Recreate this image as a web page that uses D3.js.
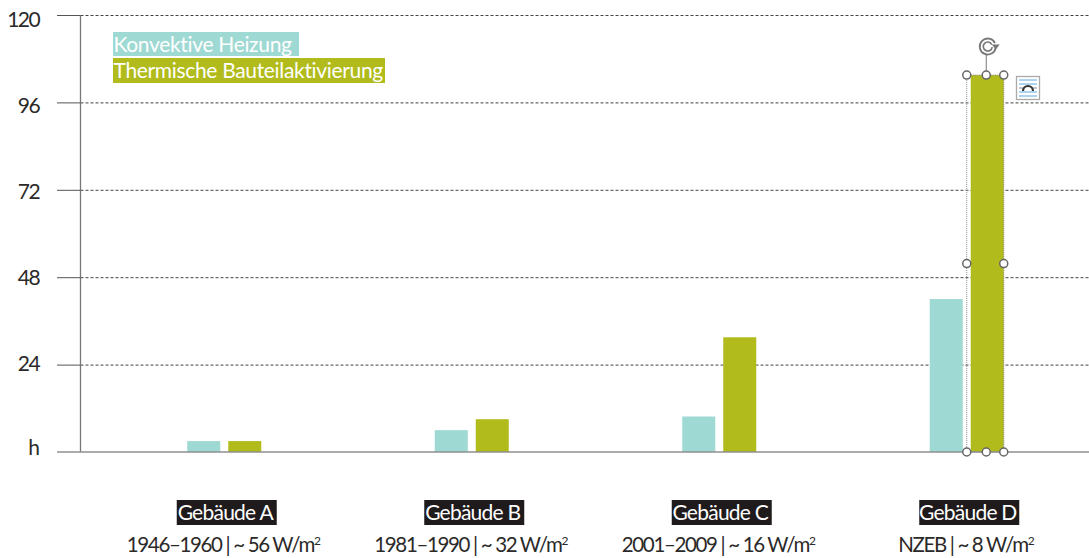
<!DOCTYPE html>
<html><head><meta charset="utf-8">
<script src="https://cdnjs.cloudflare.com/ajax/libs/d3/7.8.5/d3.min.js"></script>
<style>html,body{margin:0;padding:0;background:#fff}svg{display:block}text{font-family:"Lato",sans-serif}</style>
</head><body><svg id="c" width="1089" height="558"></svg>
<script>
const categories=["Gebäude A","Gebäude B","Gebäude C","Gebäude D"];
const subtitles=["1946–1960 | ~ 56 W/m","1981–1990 | ~ 32 W/m","2001–2009 | ~ 16 W/m","NZEB | ~ 8 W/m"];
const seriesNames=["Konvektive Heizung","Thermische Bauteilaktivierung"];
const konvektiv=[3,6,9.75,42];
const thermisch=[3,9,31.5,103.5];
const yTicks=[24,48,72,96,120];
const colors=["#9fd9d3","#b1bb1b"];
const ink="#2b2a29";
const svg=d3.select("#c");
const x=d3.scaleBand().domain(categories).range([100.5,1090.5]);
const inner=d3.scaleBand().domain(seriesNames).range([-37,37]).paddingInner(0.195);
const y=d3.scaleLinear().domain([0,120]).range([452,15]);
const yLabel=d3.scaleLinear().domain([24,120]).range([371,26.5]);
const axisX=80.5;
svg.append("g").selectAll("line").data(yTicks).join("line")
 .attr("x1",axisX).attr("x2",1089).attr("y1",d=>y(d)+.5).attr("y2",d=>y(d)+.5)
 .attr("stroke","#444").attr("stroke-width",1).attr("stroke-dasharray","3 2");
const yAxis=svg.append("g");
yAxis.append("line").attr("x1",axisX).attr("x2",axisX).attr("y1",y(120)).attr("y2",y(0)).attr("stroke","#777").attr("stroke-width",1.3);
yAxis.selectAll(".t").data(yTicks).join("line").attr("class","t").attr("x1",57).attr("x2",axisX).attr("y1",d=>y(d)+.5).attr("y2",d=>y(d)+.5).attr("stroke","#555");
yAxis.selectAll("text").data(yTicks).join("text").attr("x",39).attr("text-anchor","end").attr("y",d=>yLabel(d))
 .attr("font-size",21).attr("fill",ink).attr("letter-spacing",-1.6).text(d=>d);
yAxis.append("text").attr("x",40).attr("y",455).attr("text-anchor","end").attr("font-size",21).attr("fill",ink).text("h");
const rows=[konvektiv,thermisch];
rows.forEach((vals,s)=>{
 svg.append("g").selectAll("rect").data(vals).join("rect")
  .attr("x",(d,i)=>x(categories[i])+x.bandwidth()/2+inner(seriesNames[s]))
  .attr("width",inner.bandwidth()).attr("y",d=>y(d)).attr("height",d=>y(0)-y(d)).attr("fill",colors[s]);
});
svg.append("line").attr("x1",57).attr("x2",1089).attr("y1",y(0)).attr("y2",y(0)).attr("stroke","#8f8f8f").attr("stroke-width",1.5);
const lg=svg.append("g");
seriesNames.forEach((n,i)=>{
 const yy=32+i*26;
 lg.append("text").attr("x",113.5).attr("y",yy+20).attr("font-size",21).attr("letter-spacing",-0.33).attr("fill","#fff").text(n);
 lg.insert("rect","text").attr("x",113).attr("y",yy).attr("width",[186,272][i]).attr("height",[24,25][i]).attr("fill",colors[i]);
});
const cg=svg.append("g").selectAll("g").data(categories).join("g").attr("transform",d=>`translate(${x(d)+x.bandwidth()/2+2.5},0)`);
cg.each(function(d,i){
 const g=d3.select(this);
 g.append("text").attr("x",-1.5).attr("text-anchor","middle").attr("y",519.5).attr("font-size",21).attr("letter-spacing",-0.75).attr("fill","#fff").text(d);
 g.insert("rect","text").attr("x",-50).attr("y",500).attr("width",100).attr("height",25).attr("fill","#1f1b1c");
 const s=g.append("text").attr("x",-3.5).attr("text-anchor","middle").attr("y",552).attr("font-size",20.5).attr("letter-spacing",-1.35).attr("fill",ink).text(subtitles[i]);
 s.append("tspan").attr("font-size",12).attr("dy",-7).text("2");
});
const last=categories.length-1;
const bx=x(categories[last])+x.bandwidth()/2+inner(seriesNames[1]);
const bw=inner.bandwidth();
const barTop=y(thermisch[last]),barBot=y(0);
const sel=svg.append("g");
const hx=[bx-4,bx+bw/2-1,bx+bw];
sel.append("rect").attr("x",hx[0]).attr("y",barTop).attr("width",hx[2]-hx[0]).attr("height",barBot-barTop).attr("fill","none").attr("stroke","#888").attr("stroke-dasharray","1 1");
sel.append("line").attr("x1",hx[1]).attr("x2",hx[1]).attr("y1",54).attr("y2",barTop).attr("stroke","#777");
const hs=[[hx[0],barTop],[hx[1],barTop],[hx[2],barTop],[hx[0],(barTop+barBot)/2],[hx[2],(barTop+barBot)/2],[hx[0],barBot],[hx[1],barBot],[hx[2],barBot]];
sel.selectAll("circle.h").data(hs).join("circle").attr("class","h").attr("cx",d=>d[0]).attr("cy",d=>d[1]).attr("r",4).attr("fill","#fff").attr("stroke","#666").attr("stroke-width",1.5);
const rx=hx[1]+1.5,ry=46.5;
sel.append("path").attr("d",d3.arc()({innerRadius:8,outerRadius:8,startAngle:1.7,endAngle:7.4})).attr("transform",`translate(${rx},${ry})`).attr("fill","none").attr("stroke","#777").attr("stroke-width",1.8);
sel.append("path").attr("d",d3.arc()({innerRadius:4.5,outerRadius:4.5,startAngle:1.7,endAngle:7.4})).attr("transform",`translate(${rx},${ry})`).attr("fill","none").attr("stroke","#777").attr("stroke-width",1.6);
sel.append("path").attr("d",`M${rx+4},${ry-2}h8l-4,5z`).attr("fill","#777");
const ic=sel.append("g").attr("transform","translate(1016,76)");
ic.append("rect").attr("x",.5).attr("y",.5).attr("width",23).attr("height",23).attr("fill","#fff").attr("stroke","#aaa").attr("stroke-width",1.3);
[4,8,12,16,20].forEach((yy,i)=>ic.append("line").attr("x1",3).attr("x2",21).attr("y1",yy).attr("y2",yy).attr("stroke",i==2?"#888":"#5aa9dc"));
ic.append("path").attr("d","M7,15a5,5 0 0 1 10,0").attr("fill","#fff").attr("stroke","#333").attr("stroke-width",2.2);
</script></body></html>
